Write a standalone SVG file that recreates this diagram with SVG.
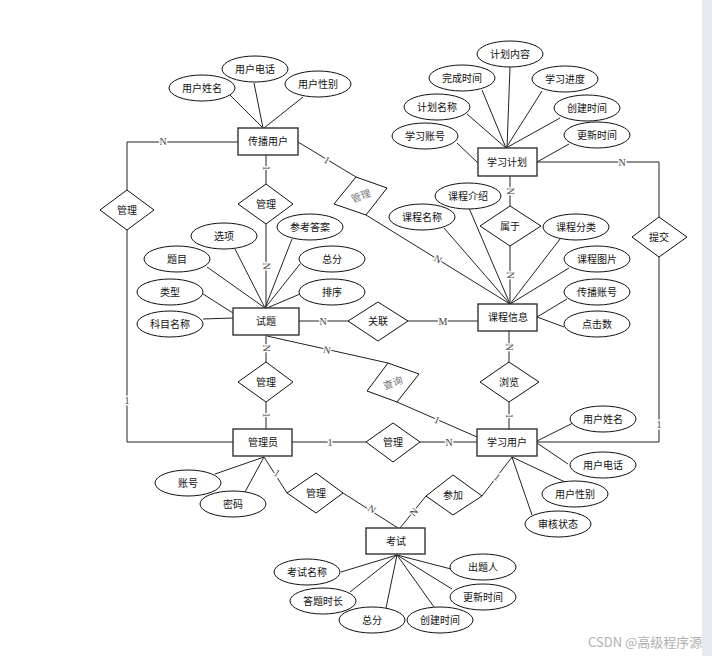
<svg xmlns="http://www.w3.org/2000/svg" width="712" height="656" viewBox="0 0 712 656">
<defs>
<style>
.bg{fill:#ffffff}
.ent rect{fill:#fff;stroke:#333;stroke-width:1.4}
.att ellipse{fill:#fff;stroke:#111;stroke-width:1}
.rel polygon{fill:#fff;stroke:#111;stroke-width:1}
text{font-family:"Noto Sans CJK SC","Liberation Sans",sans-serif;font-size:10px;fill:#111;text-anchor:middle}
.gray{fill:#777}
#connectors line,#connectors polyline{stroke:#222;stroke-width:1;fill:none}
.lbl{font-family:"Liberation Serif",serif;font-size:10px;fill:#444;stroke:#fff;stroke-width:3;paint-order:stroke;stroke-linejoin:round}
.wm{font-size:13px;fill:#b0b0b0;text-anchor:start}
</style>
</defs>
<rect class="bg" x="0" y="0" width="712" height="656"/>
<rect x="702" y="0" width="10" height="656" fill="#e6ebf0"/>

<g id="connectors">
<line x1="230" y1="95" x2="263" y2="128"/>
<line x1="254" y1="83" x2="263" y2="128"/>
<line x1="303" y1="97" x2="264" y2="128"/>
<polyline points="238,142 127,142 127,190"/>
<polyline points="127,230 127,442 233,442"/>
<line x1="266" y1="155" x2="266" y2="184"/>
<line x1="266" y1="224" x2="266" y2="308"/>
<line x1="298" y1="142" x2="356" y2="177"/>
<line x1="366" y1="215" x2="510" y2="304"/>
<line x1="457" y1="143" x2="478" y2="163"/>
<line x1="467" y1="114" x2="506" y2="148"/>
<line x1="482" y1="90" x2="506" y2="148"/>
<line x1="510" y1="67" x2="507" y2="148"/>
<line x1="542" y1="91" x2="506" y2="148"/>
<line x1="560" y1="118" x2="506" y2="148"/>
<line x1="569" y1="144" x2="537" y2="162"/>
<line x1="510" y1="176" x2="510" y2="206"/>
<line x1="510" y1="246" x2="510" y2="304"/>
<polyline points="537,162 659,162 659,217"/>
<polyline points="659,257 659,442 537,442"/>
<line x1="444" y1="228" x2="510" y2="304"/>
<line x1="469" y1="208" x2="510" y2="304"/>
<line x1="560" y1="239" x2="510" y2="304"/>
<line x1="569" y1="268" x2="510" y2="304"/>
<line x1="567" y1="299" x2="537" y2="317"/>
<line x1="564" y1="327" x2="537" y2="317"/>
<line x1="235" y1="249" x2="265" y2="308"/>
<line x1="207" y1="267" x2="265" y2="308"/>
<line x1="203" y1="294" x2="233" y2="313"/>
<line x1="203" y1="319" x2="233" y2="318"/>
<line x1="292" y1="239" x2="265" y2="308"/>
<line x1="300" y1="264" x2="265" y2="308"/>
<line x1="300" y1="294" x2="267" y2="308"/>
<line x1="299" y1="321" x2="348" y2="321"/>
<line x1="408" y1="321" x2="478" y2="321"/>
<line x1="266" y1="335" x2="266" y2="362"/>
<line x1="266" y1="402" x2="266" y2="429"/>
<line x1="267" y1="336" x2="388" y2="363"/>
<line x1="397" y1="402" x2="477" y2="437"/>
<line x1="509" y1="331" x2="509" y2="362"/>
<line x1="509" y1="402" x2="509" y2="429"/>
<line x1="292" y1="442" x2="366" y2="442"/>
<line x1="420" y1="442" x2="477" y2="442"/>
<line x1="264" y1="457" x2="215" y2="474"/>
<line x1="264" y1="457" x2="245" y2="492"/>
<line x1="264" y1="457" x2="287" y2="493"/>
<line x1="343" y1="493" x2="398" y2="528"/>
<line x1="537" y1="441" x2="575" y2="422"/>
<line x1="537" y1="443" x2="568" y2="464"/>
<line x1="512" y1="457" x2="565" y2="482"/>
<line x1="512" y1="457" x2="532" y2="515"/>
<line x1="512" y1="457" x2="482" y2="496"/>
<line x1="426" y1="496" x2="400" y2="528"/>
<line x1="341" y1="572" x2="397" y2="555"/>
<line x1="350" y1="592" x2="397" y2="555"/>
<line x1="386" y1="608" x2="397" y2="555"/>
<line x1="434" y1="607" x2="397" y2="555"/>
<line x1="452" y1="589" x2="397" y2="555"/>
<line x1="451" y1="569" x2="397" y2="555"/>

<text class="lbl" x="163" y="145">N</text>
<text class="lbl" x="127" y="404">1</text>
<text class="lbl" transform="translate(266,168) rotate(90)" x="0" y="3.5">1</text>
<text class="lbl" transform="translate(266,266) rotate(90)" x="0" y="3.5">N</text>
<text class="lbl" transform="translate(327,160) rotate(31)" x="0" y="3.5">1</text>
<text class="lbl" transform="translate(438,259) rotate(31)" x="0" y="3.5">N</text>
<text class="lbl" x="622" y="166">N</text>
<text class="lbl" x="659" y="428">1</text>
<text class="lbl" transform="translate(510,191) rotate(90)" x="0" y="3.5">N</text>
<text class="lbl" transform="translate(510,275) rotate(90)" x="0" y="3.5">N</text>
<text class="lbl" x="323" y="325">N</text>
<text class="lbl" x="443" y="325">M</text>
<text class="lbl" transform="translate(266,348) rotate(90)" x="0" y="3.5">N</text>
<text class="lbl" transform="translate(266,415) rotate(90)" x="0" y="3.5">1</text>
<text class="lbl" transform="translate(327,350) rotate(13)" x="0" y="3.5">N</text>
<text class="lbl" transform="translate(437,420) rotate(24)" x="0" y="3.5">1</text>
<text class="lbl" transform="translate(509,347) rotate(90)" x="0" y="3.5">N</text>
<text class="lbl" transform="translate(509,416) rotate(90)" x="0" y="3.5">1</text>
<text class="lbl" x="330" y="446">1</text>
<text class="lbl" x="449" y="446">N</text>
<text class="lbl" transform="translate(277,473) rotate(33)" x="0" y="3.5">1</text>
<text class="lbl" transform="translate(372,509) rotate(33)" x="0" y="3.5">N</text>
<text class="lbl" transform="translate(497,477) rotate(38)" x="0" y="3.5">1</text>
<text class="lbl" transform="translate(414,512) rotate(-50)" x="0" y="3.5">N</text>
</g>

<g id="e-chuanbo" class="ent"><rect x="238" y="128" width="60" height="27"/><text x="268" y="145">传播用户</text></g>
<g id="e-jihua" class="ent"><rect x="478" y="148" width="59" height="28"/><text x="507" y="166">学习计划</text></g>
<g id="e-shiti" class="ent"><rect x="233" y="308" width="66" height="27"/><text x="266" y="325">试题</text></g>
<g id="e-kecheng" class="ent"><rect x="478" y="304" width="59" height="27"/><text x="508" y="321">课程信息</text></g>
<g id="e-guanliyuan" class="ent"><rect x="233" y="429" width="59" height="27"/><text x="263" y="446">管理员</text></g>
<g id="e-xuexi" class="ent"><rect x="477" y="429" width="60" height="27"/><text x="507" y="446">学习用户</text></g>
<g id="e-kaoshi" class="ent"><rect x="366" y="528" width="59" height="26"/><text x="396" y="545">考试</text></g>

<g id="r-guanli-left" class="rel"><polygon points="127,190 154,210 127,230 100,210"/><text x="127" y="214">管理</text></g>
<g id="r-guanli-mid" class="rel"><polygon points="266,184 293,204 266,224 238,204"/><text x="266" y="208">管理</text></g>
<g id="r-guanli-rot" class="rel"><polygon points="356,177 387,188 366,215 334,204"/><text class="gray" transform="translate(361,196) rotate(-20)" x="0" y="3.5">管理</text></g>
<g id="r-shuyu" class="rel"><polygon points="510,206 541,226 510,246 480,226"/><text x="510" y="230">属于</text></g>
<g id="r-tijiao" class="rel"><polygon points="659,217 687,237 659,257 632,237"/><text x="659" y="241">提交</text></g>
<g id="r-guanlian" class="rel"><polygon points="378,302 408,321 378,341 348,321"/><text x="378" y="325">关联</text></g>
<g id="r-guanli-shiti" class="rel"><polygon points="266,362 293,382 266,402 238,382"/><text x="266" y="386">管理</text></g>
<g id="r-chaxun" class="rel"><polygon points="388,363 419,374 397,402 367,391"/><text class="gray" transform="translate(393,383) rotate(-20)" x="0" y="3.5">查询</text></g>
<g id="r-liulan" class="rel"><polygon points="509,362 539,382 509,402 480,382"/><text x="509" y="386">浏览</text></g>
<g id="r-guanli-xuexi" class="rel"><polygon points="393,423 420,442 393,462 366,442"/><text x="393" y="446">管理</text></g>
<g id="r-guanli-kaoshi" class="rel"><polygon points="316,473 343,493 316,513 287,493"/><text x="316" y="497">管理</text></g>
<g id="r-canjia" class="rel"><polygon points="453,475 482,496 453,515 426,496"/><text x="453" y="499">参加</text></g>

<g id="a-cb-name" class="att"><ellipse cx="202" cy="88" rx="33" ry="13"/><text x="202" y="92">用户姓名</text></g>
<g id="a-cb-phone" class="att"><ellipse cx="255" cy="69" rx="33" ry="13"/><text x="255" y="73">用户电话</text></g>
<g id="a-cb-sex" class="att"><ellipse cx="318" cy="84" rx="33" ry="13"/><text x="318" y="88">用户性别</text></g>

<g id="a-jh-content" class="att"><ellipse cx="510" cy="54" rx="33" ry="13"/><text x="510" y="58">计划内容</text></g>
<g id="a-jh-done" class="att"><ellipse cx="462" cy="78" rx="33" ry="13"/><text x="462" y="82">完成时间</text></g>
<g id="a-jh-progress" class="att"><ellipse cx="565" cy="79" rx="33" ry="13"/><text x="565" y="83">学习进度</text></g>
<g id="a-jh-name" class="att"><ellipse cx="437" cy="107" rx="33" ry="13"/><text x="437" y="111">计划名称</text></g>
<g id="a-jh-create" class="att"><ellipse cx="587" cy="108" rx="33" ry="13"/><text x="587" y="112">创建时间</text></g>
<g id="a-jh-account" class="att"><ellipse cx="425" cy="136" rx="33" ry="13"/><text x="425" y="140">学习账号</text></g>
<g id="a-jh-update" class="att"><ellipse cx="597" cy="135" rx="33" ry="13"/><text x="597" y="139">更新时间</text></g>

<g id="a-kc-intro" class="att"><ellipse cx="468" cy="196" rx="33" ry="13"/><text x="468" y="200">课程介绍</text></g>
<g id="a-kc-name" class="att"><ellipse cx="422" cy="217" rx="33" ry="13"/><text x="422" y="221">课程名称</text></g>
<g id="a-kc-cat" class="att"><ellipse cx="576" cy="227" rx="33" ry="13"/><text x="576" y="231">课程分类</text></g>
<g id="a-kc-img" class="att"><ellipse cx="597" cy="259" rx="33" ry="13"/><text x="597" y="263">课程图片</text></g>
<g id="a-kc-acc" class="att"><ellipse cx="597" cy="292" rx="33" ry="13"/><text x="597" y="296">传播账号</text></g>
<g id="a-kc-click" class="att"><ellipse cx="597" cy="324" rx="33" ry="13"/><text x="597" y="328">点击数</text></g>

<g id="a-st-option" class="att"><ellipse cx="224" cy="236" rx="33" ry="13"/><text x="224" y="240">选项</text></g>
<g id="a-st-title" class="att"><ellipse cx="177" cy="259" rx="33" ry="13"/><text x="177" y="263">题目</text></g>
<g id="a-st-type" class="att"><ellipse cx="170" cy="292" rx="33" ry="13"/><text x="170" y="296">类型</text></g>
<g id="a-st-subject" class="att"><ellipse cx="170" cy="324" rx="33" ry="13"/><text x="170" y="328">科目名称</text></g>
<g id="a-st-answer" class="att"><ellipse cx="310" cy="227" rx="33" ry="13"/><text x="310" y="231">参考答案</text></g>
<g id="a-st-score" class="att"><ellipse cx="332" cy="259" rx="33" ry="13"/><text x="332" y="263">总分</text></g>
<g id="a-st-sort" class="att"><ellipse cx="332" cy="292" rx="33" ry="13"/><text x="332" y="296">排序</text></g>

<g id="a-gl-acc" class="att"><ellipse cx="188" cy="483" rx="33" ry="13"/><text x="188" y="487">账号</text></g>
<g id="a-gl-pwd" class="att"><ellipse cx="233" cy="504" rx="33" ry="13"/><text x="233" y="508">密码</text></g>

<g id="a-xx-name" class="att"><ellipse cx="603" cy="419" rx="33" ry="13"/><text x="603" y="423">用户姓名</text></g>
<g id="a-xx-phone" class="att"><ellipse cx="603" cy="465" rx="33" ry="13"/><text x="603" y="469">用户电话</text></g>
<g id="a-xx-sex" class="att"><ellipse cx="575" cy="494" rx="33" ry="13"/><text x="575" y="498">用户性别</text></g>
<g id="a-xx-status" class="att"><ellipse cx="558" cy="524" rx="33" ry="13"/><text x="558" y="528">审核状态</text></g>

<g id="a-ks-name" class="att"><ellipse cx="307" cy="572" rx="33" ry="13"/><text x="307" y="576">考试名称</text></g>
<g id="a-ks-duration" class="att"><ellipse cx="323" cy="601" rx="33" ry="13"/><text x="323" y="605">答题时长</text></g>
<g id="a-ks-score" class="att"><ellipse cx="372" cy="620" rx="33" ry="13"/><text x="372" y="624">总分</text></g>
<g id="a-ks-create" class="att"><ellipse cx="440" cy="620" rx="33" ry="13"/><text x="440" y="624">创建时间</text></g>
<g id="a-ks-update" class="att"><ellipse cx="483" cy="597" rx="33" ry="13"/><text x="483" y="601">更新时间</text></g>
<g id="a-ks-author" class="att"><ellipse cx="483" cy="567" rx="33" ry="13"/><text x="483" y="571">出题人</text></g>

<text class="wm" x="588" y="647">CSDN @高级程序源</text>
</svg>
